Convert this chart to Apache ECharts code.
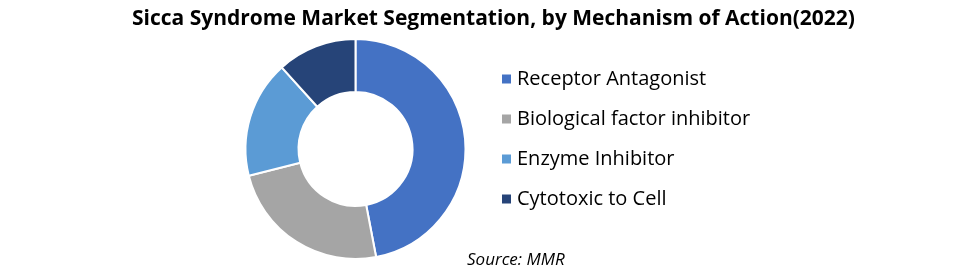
<!DOCTYPE html>
<html>
<head>
<meta charset="utf-8">
<script src="https://cdn.jsdelivr.net/npm/echarts@6/dist/echarts.min.js"></script>
<style>
html,body{margin:0;padding:0;background:#fff;}
#chart{width:967px;height:269px;}
</style>
</head>
<body>
<div id="chart"></div>
<script>
const categories = ["Receptor Antagonist", "Biological factor inhibitor", "Enzyme Inhibitor", "Cytotoxic to Cell"];
const values = [47.0, 24.1, 17.2, 11.7];
const colors = ["#4472C4", "#A5A5A5", "#5B9BD5", "#264478"];
const titleText = "Sicca Syndrome Market Segmentation, by Mechanism of Action(2022)";
const sourceText = "Source: MMR";

const chart = echarts.init(document.getElementById('chart'), null, {renderer: 'canvas'});
const FONT = "Open Sans";
chart.setOption({
  animation: false,
  backgroundColor: '#ffffff',
  color: colors,
  title: [{
    text: titleText,
    left: 127,
    top: 4,
    textStyle: {fontFamily: FONT, fontWeight: 'bold', fontSize: 21, color: '#000'}
  }, {
    text: sourceText,
    left: 462,
    top: 247,
    textStyle: {fontFamily: FONT, fontStyle: 'italic', fontWeight: 'normal', fontSize: 17, color: '#000'}
  }],
  legend: {
    orient: 'vertical',
    left: 500,
    top: 67,
    padding: 0,
    itemWidth: 11,
    itemHeight: 11,
    itemGap: 16,
    icon: 'rect',
    data: categories,
    textStyle: {fontFamily: FONT, fontSize: 20, lineHeight: 24, color: '#000'}
  },
  series: [{
    type: 'pie',
    center: [355.5, 149],
    radius: [57, 110],
    startAngle: 90,
    clockwise: true,
    label: {show: false},
    labelLine: {show: false},
    emphasis: {disabled: true},
    itemStyle: {borderColor: '#ffffff', borderWidth: 2},
    data: categories.map((c, i) => ({name: c, value: values[i]}))
  }]
});
</script>
</body>
</html>
